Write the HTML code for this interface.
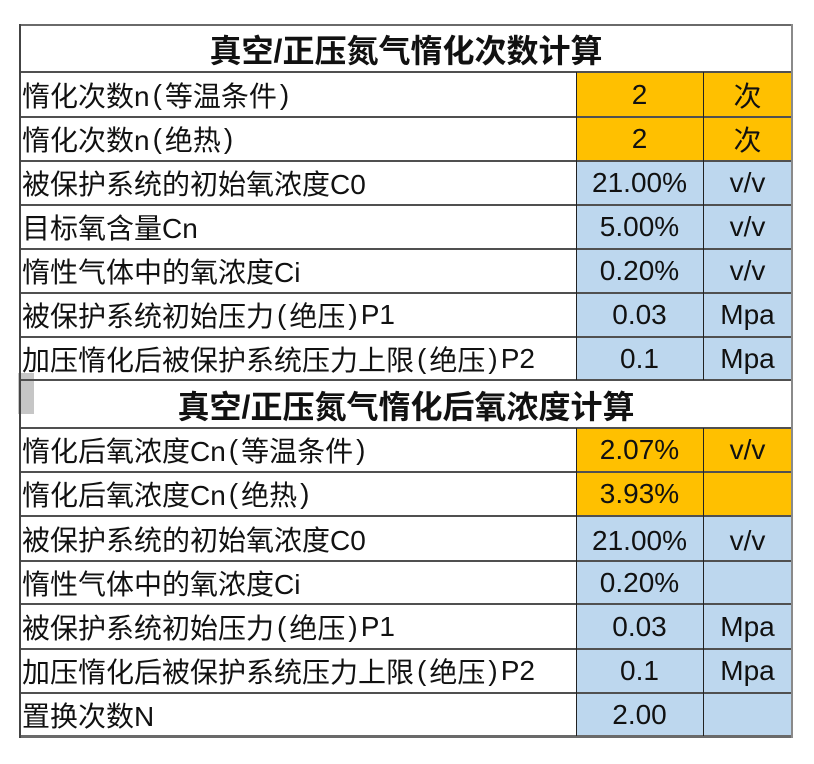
<!DOCTYPE html>
<html>
<head>
<meta charset="utf-8">
<style>
  html,body{margin:0;padding:0;background:#fff;}
  body{width:814px;height:764px;position:relative;overflow:hidden;
       font-family:"Liberation Sans","Noto Sans CJK SC",sans-serif;color:#111;}
  .c{position:absolute;display:flex;align-items:center;box-sizing:border-box;font-size:28px;white-space:nowrap;}
  .l{justify-content:flex-start;padding-left:2px;}
  .m{justify-content:center;}
  .t{justify-content:center;font-weight:bold;font-size:32px;}
  .o{background:#FFC000;}
  .b{background:#BDD7EE;}
  .h{position:absolute;height:2px;background:#505050;}
  .v{position:absolute;width:1px;background:#222;}
  .p{margin:0 3px;}
</style>
</head>
<body>

<!-- gray marker -->
<div style="position:absolute;left:18px;top:373px;width:16px;height:41px;background:#c6c6c6;"></div>

<!-- Title 1 -->
<div class="c t" style="left:20px;top:26px;width:772px;height:46px;">真空/正压氮气惰化次数计算</div>

<!-- Section 1 rows -->
<div class="c l" style="left:20px;top:72px;width:556px;height:45px;">惰化次数n<span class="p">(</span>等温条件<span class="p">)</span></div>
<div class="c m o" style="left:576px;top:72px;width:127px;height:45px;">2</div>
<div class="c m o" style="left:703px;top:72px;width:89px;height:45px;">次</div>

<div class="c l" style="left:20px;top:117px;width:556px;height:44px;">惰化次数n<span class="p">(</span>绝热<span class="p">)</span></div>
<div class="c m o" style="left:576px;top:117px;width:127px;height:44px;">2</div>
<div class="c m o" style="left:703px;top:117px;width:89px;height:44px;">次</div>

<div class="c l" style="left:20px;top:161px;width:556px;height:44px;">被保护系统的初始氧浓度C0</div>
<div class="c m b" style="left:576px;top:161px;width:127px;height:44px;">21.00%</div>
<div class="c m b" style="left:703px;top:161px;width:89px;height:44px;">v/v</div>

<div class="c l" style="left:20px;top:205px;width:556px;height:44px;">目标氧含量Cn</div>
<div class="c m b" style="left:576px;top:205px;width:127px;height:44px;">5.00%</div>
<div class="c m b" style="left:703px;top:205px;width:89px;height:44px;">v/v</div>

<div class="c l" style="left:20px;top:249px;width:556px;height:44px;">惰性气体中的氧浓度Ci</div>
<div class="c m b" style="left:576px;top:249px;width:127px;height:44px;">0.20%</div>
<div class="c m b" style="left:703px;top:249px;width:89px;height:44px;">v/v</div>

<div class="c l" style="left:20px;top:293px;width:556px;height:44px;">被保护系统初始压力<span class="p">(</span>绝压<span class="p">)</span>P1</div>
<div class="c m b" style="left:576px;top:293px;width:127px;height:44px;">0.03</div>
<div class="c m b" style="left:703px;top:293px;width:89px;height:44px;">Mpa</div>

<div class="c l" style="left:20px;top:337px;width:556px;height:43px;">加压惰化后被保护系统压力上限<span class="p">(</span>绝压<span class="p">)</span>P2</div>
<div class="c m b" style="left:576px;top:337px;width:127px;height:43px;">0.1</div>
<div class="c m b" style="left:703px;top:337px;width:89px;height:43px;">Mpa</div>

<!-- Title 2 -->
<div class="c t" style="left:20px;top:381px;width:772px;height:47px;">真空/正压氮气惰化后氧浓度计算</div>

<!-- Section 2 rows -->
<div class="c l" style="left:20px;top:428px;width:556px;height:44px;">惰化后氧浓度Cn<span class="p">(</span>等温条件<span class="p">)</span></div>
<div class="c m o" style="left:576px;top:428px;width:127px;height:44px;">2.07%</div>
<div class="c m o" style="left:703px;top:428px;width:89px;height:44px;">v/v</div>

<div class="c l" style="left:20px;top:472px;width:556px;height:44px;">惰化后氧浓度Cn<span class="p">(</span>绝热<span class="p">)</span></div>
<div class="c m o" style="left:576px;top:472px;width:127px;height:44px;">3.93%</div>
<div class="c m o" style="left:703px;top:472px;width:89px;height:44px;"></div>

<div class="c l" style="left:20px;top:516px;width:556px;height:45px;">被保护系统的初始氧浓度C0</div>
<div class="c m b" style="left:576px;top:516px;width:127px;height:45px;padding-top:4px;">21.00%</div>
<div class="c m b" style="left:703px;top:516px;width:89px;height:45px;padding-top:4px;">v/v</div>

<div class="c l" style="left:20px;top:561px;width:556px;height:43px;">惰性气体中的氧浓度Ci</div>
<div class="c m b" style="left:576px;top:561px;width:127px;height:43px;">0.20%</div>
<div class="c m b" style="left:703px;top:561px;width:89px;height:43px;"></div>

<div class="c l" style="left:20px;top:604px;width:556px;height:45px;">被保护系统初始压力<span class="p">(</span>绝压<span class="p">)</span>P1</div>
<div class="c m b" style="left:576px;top:604px;width:127px;height:45px;">0.03</div>
<div class="c m b" style="left:703px;top:604px;width:89px;height:45px;">Mpa</div>

<div class="c l" style="left:20px;top:649px;width:556px;height:44px;">加压惰化后被保护系统压力上限<span class="p">(</span>绝压<span class="p">)</span>P2</div>
<div class="c m b" style="left:576px;top:649px;width:127px;height:44px;">0.1</div>
<div class="c m b" style="left:703px;top:649px;width:89px;height:44px;">Mpa</div>

<div class="c l" style="left:20px;top:693px;width:556px;height:43px;">置换次数N</div>
<div class="c m b" style="left:576px;top:693px;width:127px;height:43px;">2.00</div>
<div class="c m b" style="left:703px;top:693px;width:89px;height:43px;"></div>

<!-- Horizontal lines -->
<div class="h" style="left:19px;top:24px;width:774px;background:#6a6a6a;"></div>
<div class="h" style="left:19px;top:71px;width:774px;"></div>
<div class="h" style="left:19px;top:116px;width:774px;"></div>
<div class="h" style="left:19px;top:160px;width:774px;"></div>
<div class="h" style="left:19px;top:204px;width:774px;"></div>
<div class="h" style="left:19px;top:248px;width:774px;"></div>
<div class="h" style="left:19px;top:292px;width:774px;"></div>
<div class="h" style="left:19px;top:336px;width:774px;"></div>
<div class="h" style="left:19px;top:379px;width:774px;"></div>
<div class="h" style="left:19px;top:427px;width:774px;"></div>
<div class="h" style="left:19px;top:471px;width:774px;"></div>
<div class="h" style="left:19px;top:515px;width:774px;"></div>
<div class="h" style="left:19px;top:560px;width:774px;"></div>
<div class="h" style="left:19px;top:603px;width:774px;"></div>
<div class="h" style="left:19px;top:648px;width:774px;"></div>
<div class="h" style="left:19px;top:692px;width:774px;"></div>
<div class="h" style="left:19px;top:735px;width:774px;height:3px;background:#6a6a6a;"></div>

<!-- Vertical lines -->
<div class="v" style="left:19px;top:24px;height:714px;width:2px;background:#444;"></div>
<div class="v" style="left:791px;top:24px;height:714px;width:2px;background:#8a8a8a;"></div>
<div class="v" style="left:576px;top:72px;height:308px;"></div>
<div class="v" style="left:703px;top:72px;height:308px;"></div>
<div class="v" style="left:576px;top:428px;height:308px;"></div>
<div class="v" style="left:703px;top:428px;height:308px;"></div>

</body>
</html>
